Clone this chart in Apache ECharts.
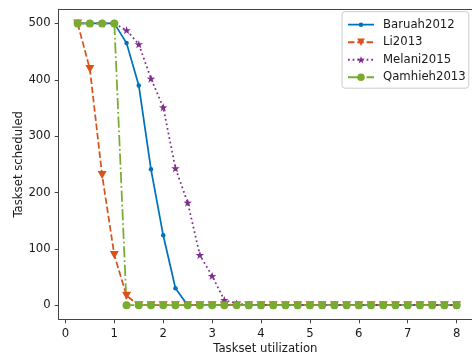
<!DOCTYPE html>
<html>
<head>
<meta charset="utf-8">
<script src="https://cdn.jsdelivr.net/npm/echarts@6/dist/echarts.min.js"></script>
<style>
html,body{margin:0;padding:0;background:#fff;}
#chart{width:472px;height:356px;}
</style>
</head>
<body>
<div id="chart"></div>
<script>
// ---- data ----
const utilization = [0.25,0.5,0.75,1,1.25,1.5,1.75,2,2.25,2.5,2.75,3,3.25,3.5,3.75,4,4.25,4.5,4.75,5,5.25,5.5,5.75,6,6.25,6.5,6.75,7,7.25,7.5,7.75,8];
const baruah2012 = [500,500,500,500,465,390,241,124,30,0,0,0,0,0,0,0,0,0,0,0,0,0,0,0,0,0,0,0,0,0,0,0];
const li2013 = [500,419,231,89,17,0,0,0,0,0,0,0,0,0,0,0,0,0,0,0,0,0,0,0,0,0,0,0,0,0,0,0];
const melani2015 = [500,500,500,500,488,463,402,351,243,182,89,52,9,3,0,0,0,0,0,0,0,0,0,0,0,0,0,0,0,0,0,0];
const qamhieh2013 = [500,500,500,500,0,0,0,0,0,0,0,0,0,0,0,0,0,0,0,0,0,0,0,0,0,0,0,0,0,0,0,0];
const xTicks = [0,1,2,3,4,5,6,7,8];
const yTicks = [0,100,200,300,400,500];
const seriesNames = ['Baruah2012','Li2013','Melani2015','Qamhieh2013'];

const pair = arr => utilization.map((u,i)=>[u,arr[i]]);
const FONT = 'DejaVu Sans';
const STAR = 'path://M0,-10 L2.35,-3.24 L9.51,-3.09 L3.8,1.24 L5.88,8.09 L0,4 L-5.88,8.09 L-3.8,1.24 L-9.51,-3.09 L-2.35,-3.24 Z';
// legend handle for Baruah: solid line with a small dot (26 x 4.6 box)
const BARUAH_ICON = 'path://M0,1.425 L26,1.425 L26,3.175 L0,3.175 Z M15.3,2.3 A2.3,2.3 0 1 1 10.7,2.3 A2.3,2.3 0 1 1 15.3,2.3 Z';

const X_MIN = -0.1375, X_MAX = 8.3145;

const chart = echarts.init(document.getElementById('chart'), null, {renderer:'canvas'});
chart.setOption({
  animation:false,
  backgroundColor:'#fff',
  grid:{left:58.7, top:9.3, right:0, bottom:36.7, containLabel:false, outerBoundsMode:'none'},
  xAxis:[{
    type:'value', min:X_MIN, max:X_MAX,
    name:'Taskset utilization', nameLocation:'middle', nameGap:23.5, nameMoveOverlap:false,
    nameTextStyle:{fontFamily:FONT, fontSize:11.7, color:'#1a1a1a'},
    axisLine:{show:true, onZero:false, lineStyle:{color:'#444', width:1}},
    axisTick:{show:true, length:4, lineStyle:{color:'#444'}, customValues:xTicks},
    axisLabel:{fontFamily:FONT, fontSize:11.7, color:'#1a1a1a', margin:9, customValues:xTicks},
    splitLine:{show:false}
  },{
    type:'value', position:'top', min:X_MIN, max:X_MAX,
    axisLine:{show:true, onZero:false, lineStyle:{color:'#444', width:1}},
    axisTick:{show:false}, axisLabel:{show:false}, splitLine:{show:false}
  }],
  yAxis:{
    type:'value', min:-25, max:525,
    name:'Taskset scheduled', nameLocation:'middle', nameGap:34, nameMoveOverlap:false,
    nameTextStyle:{fontFamily:FONT, fontSize:11.7, color:'#1a1a1a'},
    axisLine:{show:true, onZero:false, lineStyle:{color:'#444', width:1}},
    axisTick:{show:true, length:4, lineStyle:{color:'#444'}, customValues:yTicks},
    axisLabel:{fontFamily:FONT, fontSize:11.7, color:'#1a1a1a', margin:8, customValues:yTicks},
    splitLine:{show:false}
  },
  legend:{
    orient:'vertical', left:342, top:11.7,
    padding:[7,3,5,5], itemGap:5.5, itemWidth:26, itemHeight:9.5,
    borderColor:'#cccccc', borderWidth:1, borderRadius:3, backgroundColor:'rgba(255,255,255,0.8)',
    textStyle:{fontFamily:FONT, fontSize:11.7, color:'#1a1a1a', padding:[0,0,0,4]},
    data:[{name:seriesNames[0], icon:BARUAH_ICON}, seriesNames[1], seriesNames[2], seriesNames[3]]
  },
  series:[
    {name:seriesNames[0], type:'line', data:pair(baruah2012), showAllSymbol:true,
     symbol:'circle', symbolSize:4.5, color:'#0072BD',
     lineStyle:{width:1.75, type:'solid'}, itemStyle:{color:'#0072BD'}},
    {name:seriesNames[1], type:'line', data:pair(li2013), showAllSymbol:true,
     symbol:'triangle', symbolRotate:180, symbolSize:[9,8], color:'#D95319',
     lineStyle:{width:1.75, type:[6.5,2.8]}, itemStyle:{color:'#D95319'}},
    {name:seriesNames[2], type:'line', data:pair(melani2015), showAllSymbol:true,
     symbol:STAR, symbolSize:8.5, symbolKeepAspect:true, color:'#7E2F8E',
     lineStyle:{width:1.75, type:[1.75,2.9]}, itemStyle:{color:'#7E2F8E'}},
    {name:seriesNames[3], type:'line', data:pair(qamhieh2013), showAllSymbol:true,
     symbol:'circle', symbolSize:8, color:'#77AC30',
     lineStyle:{width:1.75, type:[11.2,2.8,1.75,2.8]}, itemStyle:{color:'#77AC30'}}
  ]
});
</script>
</body>
</html>
